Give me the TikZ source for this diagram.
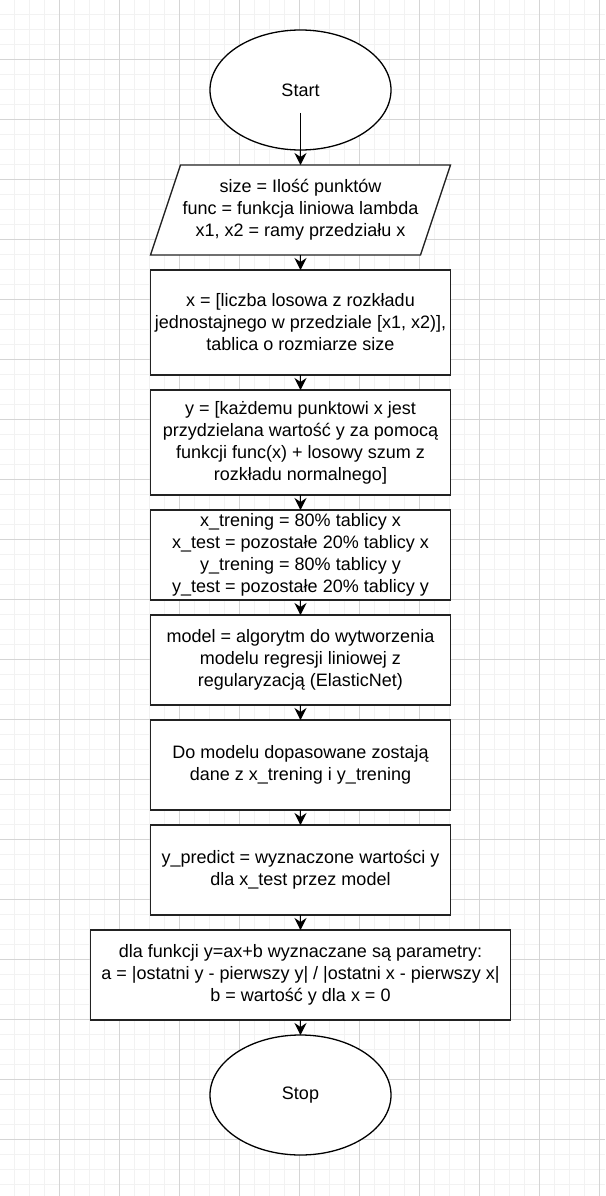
\documentclass[tikz,border=0pt]{standalone}
\usepackage{fontspec}
\setmainfont{Liberation Sans}
\usetikzlibrary{arrows.meta,shapes.geometric}
\definecolor{gridminor}{HTML}{F2F2F2}
\definecolor{gridmajor}{HTML}{D5D5D5}
\definecolor{boxline}{HTML}{222222}
\tikzset{
  every node/.style={font=\fontsize{18}{22}\selectfont, align=center, inner sep=0pt, outer sep=0pt},
  term/.style={ellipse, draw=black, line width=1.3pt, fill=white, minimum width=181pt, minimum height=120pt},
  procbox/.style={rectangle, draw=boxline, line width=1.3pt, fill=white, minimum width=300pt},
  iobox/.style={rectangle, minimum width=300pt, minimum height=90pt},
  ioshape/.style={draw=boxline, fill=white, line width=1.3pt, line join=miter},
  flow/.style={-{Stealth[length=12pt,width=12pt,inset=4pt]}, line width=1.3pt, black},
}
\begin{document}
\begin{tikzpicture}[x=1pt,y=-1pt]
\useasboundingbox (0,0) rectangle (605,1196);
\fill[white] (0,0) rectangle (605,1196);
% grid
\foreach \i in {1,...,40} {
  \draw[gridminor, line width=1.5pt] (15*\i-0.5,0) -- (15*\i-0.5,1196);
}
\foreach \i in {1,...,79} {
  \draw[gridminor, line width=1.5pt] (0,15*\i-0.5) -- (605,15*\i-0.5);
}
\foreach \i in {1,...,10} {
  \draw[gridmajor, line width=1pt] (60*\i-0.5,0) -- (60*\i-0.5,1196);
}
\foreach \i in {1,...,19} {
  \draw[gridmajor, line width=1pt] (0,60*\i-0.5) -- (605,60*\i-0.5);
}
\draw[gridmajor, line width=1.6pt] (119.5,0) -- (119.5,1100);

% nodes
\node[term] (start) at (300.5,90) {Start};
\node[iobox] (io) at (300.5,210) {};
\filldraw[ioshape] ([xshift=30pt]io.north west) -- (io.north east) -- ([xshift=-30pt]io.south east) -- (io.south west) -- cycle;
\node (iotext) at (io.center) {size = Ilość punktów\\func = funkcja liniowa lambda\\x1, x2 = ramy przedziału x};

\node[procbox, minimum height=105pt] (b2) at (300.5,322.5) {x = [liczba losowa z rozkładu\\jednostajnego w przedziale [x1, x2)],\\tablica o rozmiarze size};
\node[procbox, minimum height=105pt] (b3) at (300.5,442.5) {y = [każdemu punktowi x jest\\przydzielana wartość y za pomocą\\funkcji func(x) + losowy szum z\\rozkładu normalnego]};
\node[procbox, minimum height=90pt] (b4) at (300.5,555) {x\_trening = 80\% tablicy x\\x\_test = pozostałe 20\% tablicy x\\y\_trening = 80\% tablicy y\\y\_test = pozostałe 20\% tablicy y};
\node[procbox, minimum height=90pt] (b5) at (300.5,660) {model = algorytm do wytworzenia\\modelu regresji liniowej z\\regularyzacją (ElasticNet)};
\node[procbox, minimum height=90pt] (b6) at (300.5,765) {Do modelu dopasowane zostają\\dane z x\_trening i y\_trening};
\node[procbox, minimum height=90pt] (b7) at (300.5,870) {y\_predict = wyznaczone wartości y\\dla x\_test przez model};
\node[procbox, minimum height=90pt, minimum width=420pt] (b8) at (300.5,975) {dla funkcji y=ax+b wyznaczane są parametry:\\a = |ostatni y - pierwszy y| / |ostatni x - pierwszy x|\\b = wartość y dla x = 0};
\node[term] (stop) at (300.5,1095) {Stop};

% connectors
\draw[flow] ([yshift=-23pt]start.center) -- (io.north);
\draw[flow] (io.south) -- (b2.north);
\draw[flow] (b2.south) -- (b3.north);
\draw[flow] (b3.south) -- (b4.north);
\draw[flow] (b4.south) -- (b5.north);
\draw[flow] (b5.south) -- (b6.north);
\draw[flow] (b6.south) -- (b7.north);
\draw[flow] (b7.south) -- (b8.north);
\draw[flow] (b8.south) -- (stop.north);
\end{tikzpicture}
\end{document}
